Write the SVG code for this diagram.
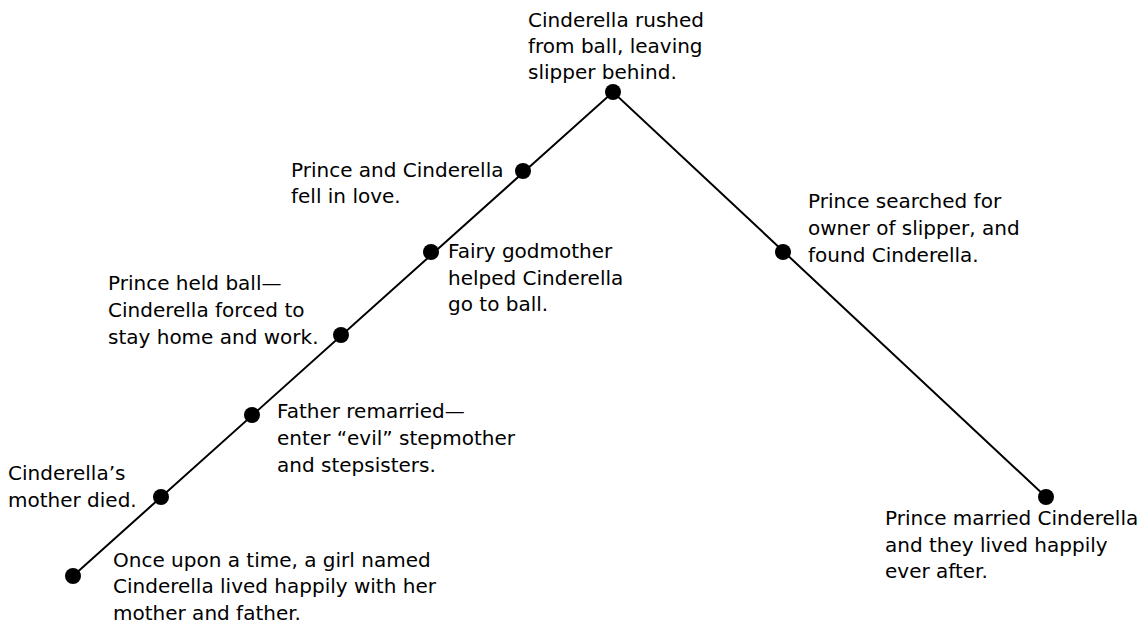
<svg xmlns="http://www.w3.org/2000/svg" width="1148" height="627" viewBox="0 0 1148 627">
  <style>
    .lbl { font-family: "DejaVu Sans", "Liberation Sans", sans-serif; font-size: 20px; fill: #000; }
    .dot { fill: #000; }
    .edge { stroke: #000; stroke-width: 2; fill: none; }
  </style>
  <rect width="1148" height="627" fill="#fff"/>

  <!-- plot line: rising action to the climax, then falling action -->
  <g id="connectors">
    <path class="edge" d="M73,576 L613,92 L1046,497"/>
  </g>

  <g id="n1">
    <circle class="dot" cx="73" cy="576" r="8"/>
    <text class="lbl" x="113" y="567">Once upon a time, a girl named</text>
    <text class="lbl" x="113" y="593">Cinderella lived happily with her</text>
    <text class="lbl" x="113" y="620">mother and father.</text>
  </g>

  <g id="n2">
    <circle class="dot" cx="161" cy="497" r="8"/>
    <text class="lbl" x="8" y="480">Cinderella’s</text>
    <text class="lbl" x="8" y="507">mother died.</text>
  </g>

  <g id="n3">
    <circle class="dot" cx="252" cy="415" r="8"/>
    <text class="lbl" x="277" y="418">Father remarried—</text>
    <text class="lbl" x="277" y="445">enter “evil” stepmother</text>
    <text class="lbl" x="277" y="472">and stepsisters.</text>
  </g>

  <g id="n4">
    <circle class="dot" cx="341" cy="335" r="8"/>
    <text class="lbl" x="108" y="290">Prince held ball—</text>
    <text class="lbl" x="108" y="317">Cinderella forced to</text>
    <text class="lbl" x="108" y="344">stay home and work.</text>
  </g>

  <g id="n5">
    <circle class="dot" cx="431" cy="252" r="8"/>
    <text class="lbl" x="448" y="258">Fairy godmother</text>
    <text class="lbl" x="448" y="285">helped Cinderella</text>
    <text class="lbl" x="448" y="311">go to ball.</text>
  </g>

  <g id="n6">
    <circle class="dot" cx="523" cy="171" r="8"/>
    <text class="lbl" x="291" y="177">Prince and Cinderella</text>
    <text class="lbl" x="291" y="203">fell in love.</text>
  </g>

  <g id="n7">
    <circle class="dot" cx="613" cy="92" r="8"/>
    <text class="lbl" x="528" y="27">Cinderella rushed</text>
    <text class="lbl" x="528" y="53">from ball, leaving</text>
    <text class="lbl" x="528" y="79">slipper behind.</text>
  </g>

  <g id="n8">
    <circle class="dot" cx="783" cy="252" r="8"/>
    <text class="lbl" x="808" y="208">Prince searched for</text>
    <text class="lbl" x="808" y="235">owner of slipper, and</text>
    <text class="lbl" x="808" y="262">found Cinderella.</text>
  </g>

  <g id="n9">
    <circle class="dot" cx="1046" cy="497" r="8"/>
    <text class="lbl" x="885" y="525">Prince married Cinderella</text>
    <text class="lbl" x="885" y="552">and they lived happily</text>
    <text class="lbl" x="885" y="578">ever after.</text>
  </g>
</svg>
